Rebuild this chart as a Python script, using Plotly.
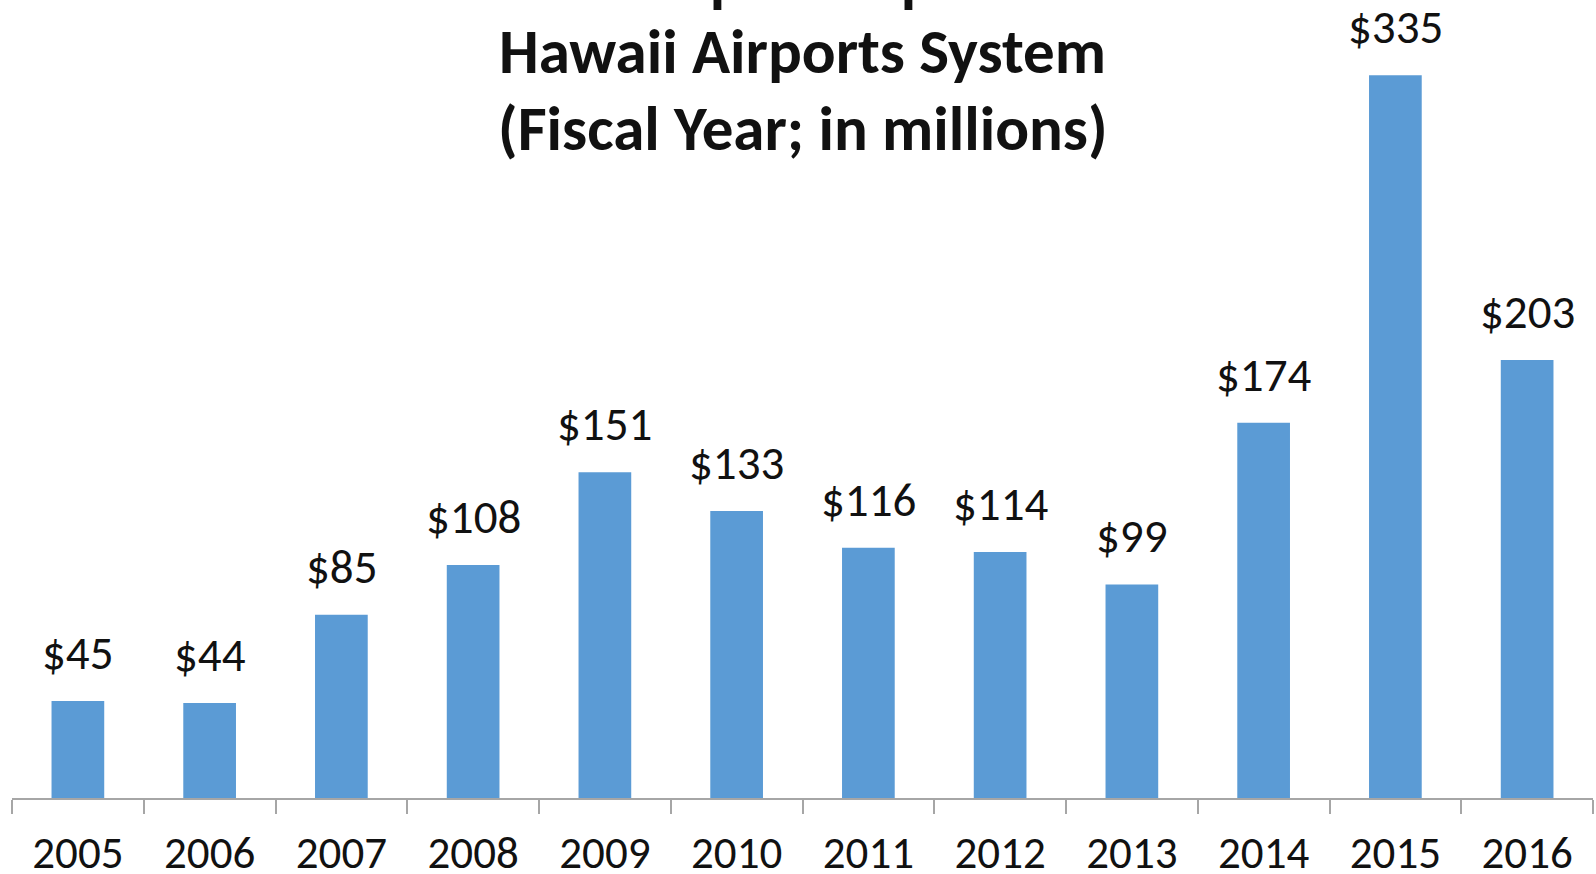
import plotly.graph_objects as go

years = ["2005", "2006", "2007", "2008", "2009", "2010", "2011", "2012", "2013", "2014", "2015", "2016"]
spending = [45, 44, 85, 108, 151, 133, 116, 114, 99, 174, 335, 203]
labels = ["$" + str(v) for v in spending]

title_lines = ["Annual Capital Expenditures", "Hawaii Airports System", "(Fiscal Year; in millions)"]

FONT = "Carlito, Calibri, Lato, sans-serif"

fig = go.Figure(go.Bar(
    x=years, y=spending,
    marker=dict(color="#5B9BD5", line=dict(width=0)),
    hovertemplate="%{x}: $%{y}M<extra></extra>",
))

# value labels: x is the category's serial index on the category axis
for i, (v, lab) in enumerate(zip(spending, labels)):
    fig.add_annotation(x=i, y=v, xref="x", yref="y", text=lab, showarrow=False,
                       yanchor="bottom", yshift=17,
                       font=dict(family=FONT, size=47, color="#111111"))

ys = [1.086, 0.989, 0.887]
xs = [12, 0, 0]
for t, y, xsh in zip(title_lines, ys, xs):
    fig.add_annotation(text="<b>" + t + "</b>", x=0.5, xref="paper", y=y, yref="paper",
                       yanchor="middle", showarrow=False, xshift=xsh,
                       font=dict(family=FONT, size=63, color="#111111"))

fig.update_layout(
    width=1596, height=874,
    margin=dict(l=12, r=3, t=43, b=76, autoexpand=False),
    paper_bgcolor="white", plot_bgcolor="white",
    bargap=0.6, showlegend=False,
    xaxis=dict(type="category", categoryorder="array", categoryarray=years,
               range=[-0.5, len(years) - 0.5],
               showline=True, linecolor="#A6A6A6", linewidth=2, automargin=False,
               ticks="outside", tickson="boundaries", ticklen=14, tickcolor="#A6A6A6", tickwidth=2,
               ticklabelstandoff=14,
               tickfont=dict(family=FONT, size=45, color="#111111"), showgrid=False),
    yaxis=dict(range=[0, 350], visible=False, showgrid=False, automargin=False),
)

fig.write_html("out.html", config={"displayModeBar": False},
               post_script="document.body.style.margin='0';document.body.style.overflow='hidden';")
